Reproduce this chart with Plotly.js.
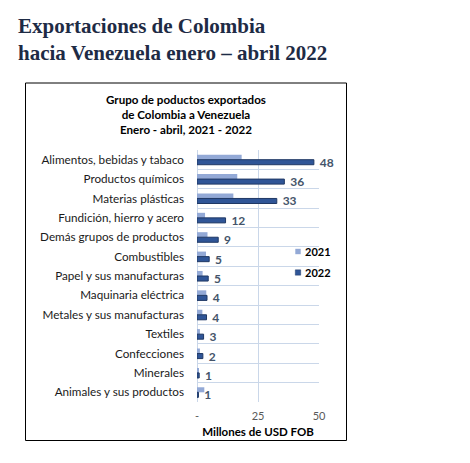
<!DOCTYPE html>
<html>
<head>
<meta charset="utf-8">
<script src="https://cdn.plot.ly/plotly-3.0.1.min.js"></script>
<style>
  html, body { margin: 0; padding: 0; background: #fff; }
  #chart { width: 470px; height: 463px; }
</style>
</head>
<body>
<div id="chart"></div>
<script>
const categories = [
  'Alimentos, bebidas y tabaco',
  'Productos químicos',
  'Materias plásticas',
  'Fundición, hierro y acero',
  'Demás grupos de productos',
  'Combustibles',
  'Papel y sus manufacturas',
  'Maquinaria eléctrica',
  'Metales y sus manufacturas',
  'Textiles',
  'Confecciones',
  'Minerales',
  'Animales y sus productos'
];
const values2021 = [18.3, 16.5, 14.9, 3.3, 4.3, 3.7, 2.3, 3.8, 2.2, 1.2, 1.2, 0.7, 3.0];
const values2022 = [47.9, 35.8, 32.7, 11.7, 8.7, 5.0, 4.6, 4.1, 3.9, 2.7, 2.4, 0.9, 0.6];
const tickValues = [0, 25, 50];
const tickLabels = ['-', '25', '50'];

// plot area in pixels, used to place the framing box and texts
const L = 197, R = 319, T = 150, B = 402;
const px = x => (x - L) / (R - L);
const py = y => (B - y) / (B - T);

const font = 'Lato, "Liberation Sans", sans-serif';

const data = [{
  type: 'bar',
  orientation: 'h',
  name: '2021',
  legendgroup: 'a',
  y: categories,
  x: values2021,
  marker: {color: '#93A9D6'},
  hoverinfo: 'x'
}, {
  type: 'bar',
  orientation: 'h',
  name: '2022',
  legendgroup: 'b',
  y: categories,
  x: values2022,
  marker: {color: '#2F5597', line: {color: '#1F3864', width: 1}},
  texttemplate: '\u00a0\u00a0%{x:.0f}',
  textposition: 'outside',
  constraintext: 'none',
  cliponaxis: false,
  textfont: {family: font, size: 12, color: '#44546A', weight: 'bold'},
  hoverinfo: 'x'
}];

const layout = {
  width: 470,
  height: 463,
  margin: {l: L, r: 470 - R, t: T, b: 463 - B},
  paper_bgcolor: '#fff',
  plot_bgcolor: '#fff',
  barmode: 'group',
  bargap: 0.48,
  bargroupgap: 0,
  showlegend: true,
  xaxis: {
    range: [0, 50],
    tickvals: tickValues,
    ticktext: tickLabels,
    showgrid: true,
    gridcolor: '#CAD7E9',
    zeroline: true,
    zerolinecolor: '#CAD7E9',
    showline: false,
    ticks: '',
    ticklabelstandoff: 6,
    tickfont: {family: font, size: 11, color: '#595959'},
    title: {
      text: 'Millones de USD FOB',
      standoff: 6,
      font: {family: font, size: 11.5, color: '#000', weight: 'bold'}
    },
    fixedrange: true
  },
  yaxis: {
    type: 'category',
    autorange: 'reversed',
    tickson: 'boundaries',
    showgrid: true,
    gridcolor: '#CAD7E9',
    ticks: '',
    ticklabelstandoff: 12,
    tickfont: {family: font, size: 11.7, color: '#1A1A1A'},
    fixedrange: true
  },
  legend: {
    x: px(265),
    xanchor: 'left',
    y: py(237),
    yanchor: 'top',
    tracegroupgap: 2,
    bgcolor: 'rgba(0,0,0,0)',
    font: {family: font, size: 11, color: '#000', weight: 'bold'}
  },
  annotations: [{
    text: 'Exportaciones de Colombia<br>hacia Venezuela enero – abril 2022',
    xref: 'paper',
    yref: 'paper',
    x: px(16),
    xanchor: 'left',
    y: py(12),
    yanchor: 'top',
    align: 'left',
    showarrow: false,
    font: {family: '"Liberation Serif", serif', size: 21, color: '#1E2B45', weight: 'bold'}
  }, {
    text: '<b>Grupo de poductos exportados<br>de Colombia a Venezuela<br>Enero - abril, 2021 - 2022</b>',
    xref: 'paper',
    yref: 'paper',
    x: px(186),
    xanchor: 'center',
    y: py(114),
    yanchor: 'middle',
    showarrow: false,
    align: 'center',
    font: {family: font, size: 11.6, color: '#000'}
  }],
  shapes: [{
    type: 'rect',
    xref: 'paper',
    yref: 'paper',
    x0: px(25.5),
    x1: px(346.5),
    y0: py(440.5),
    y1: py(83),
    line: {color: '#000', width: 1}
  }]
};

Plotly.newPlot('chart', data, layout, {displayModeBar: false}).then(gd => {
  // smaller legend squares sitting close to the text, like the original
  gd.querySelectorAll('.legend .legendpoints path').forEach(p => {
    p.setAttribute('transform', 'translate(33,0) scale(0.45)');
  });
});
</script>
</body>
</html>
